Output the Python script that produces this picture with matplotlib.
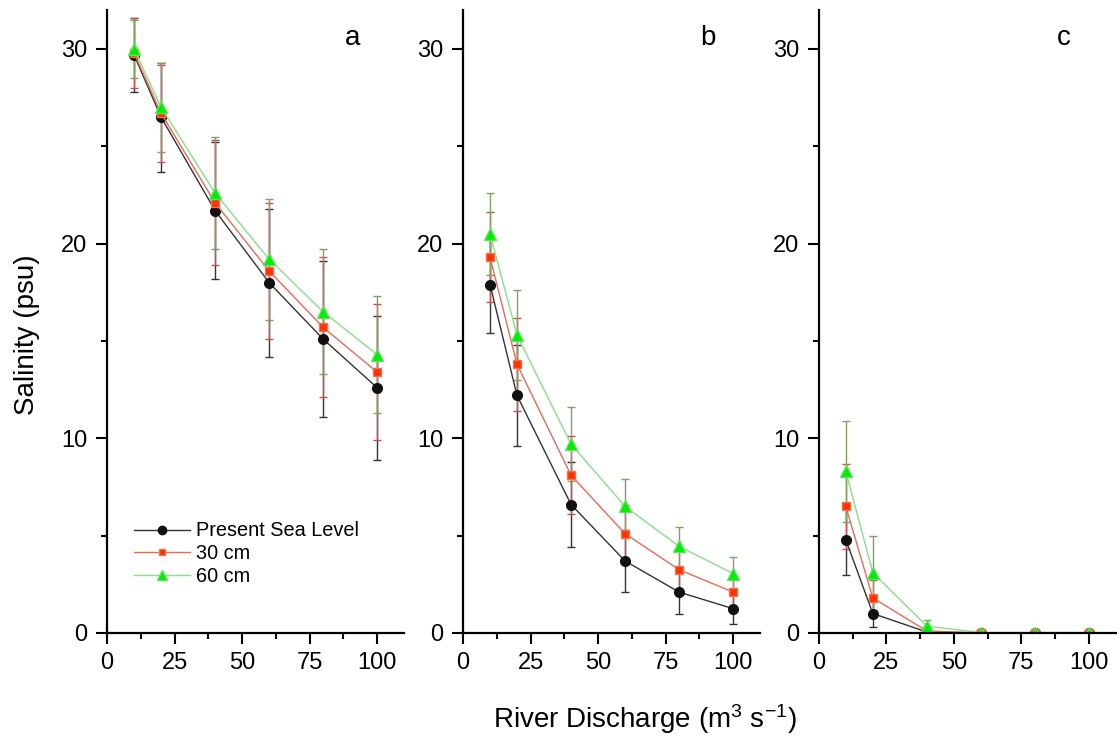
import matplotlib
matplotlib.use('Agg')
import matplotlib.pyplot as plt
from matplotlib.ticker import MultipleLocator
from matplotlib.lines import Line2D

plt.rcParams['font.family'] = ['Liberation Sans', 'DejaVu Sans']
plt.rcParams['mathtext.default'] = 'regular'

discharge = [10, 20, 40, 60, 80, 100]
series_names = ['Present Sea Level', '30 cm', '60 cm']
panel_letters = ['a', 'b', 'c']

# salinity (psu) per panel, per sea-level scenario
sal_a_present = [29.7, 26.5, 21.7, 18.0, 15.1, 12.6]
sal_a_30 = [29.8, 26.7, 22.1, 18.6, 15.7, 13.4]
sal_a_60 = [30.0, 27.0, 22.6, 19.2, 16.5, 14.3]
err_a_present = [1.9, 2.8, 3.5, 3.8, 4.0, 3.7]
err_a_30 = [1.8, 2.5, 3.2, 3.5, 3.6, 3.5]
err_a_60 = [1.5, 2.3, 2.9, 3.1, 3.2, 3.0]

sal_b_present = [17.9, 12.2, 6.6, 3.7, 2.1, 1.25]
sal_b_30 = [19.3, 13.8, 8.1, 5.1, 3.25, 2.1]
sal_b_60 = [20.5, 15.3, 9.7, 6.5, 4.45, 3.05]
err_b_present = [2.5, 2.6, 2.2, 1.6, 1.15, 0.8]
err_b_30 = [2.3, 2.4, 2.0, 1.5, 1.1, 0.8]
err_b_60 = [2.1, 2.3, 1.9, 1.4, 1.0, 0.85]

sal_c_present = [4.8, 1.0, 0.05, 0.0, 0.0, 0.0]
sal_c_30 = [6.5, 1.8, 0.1, 0.0, 0.0, 0.0]
sal_c_60 = [8.3, 3.1, 0.35, 0.02, 0.02, 0.02]
err_c_present = [1.8, 0.7, 0.1, 0.0, 0.0, 0.0]
err_c_30 = [2.2, 0.9, 0.1, 0.0, 0.0, 0.0]
err_c_60 = [2.6, 1.9, 0.3, 0.05, 0.05, 0.05]

panels = [
    ([sal_a_present, sal_a_30, sal_a_60], [err_a_present, err_a_30, err_a_60]),
    ([sal_b_present, sal_b_30, sal_b_60], [err_b_present, err_b_30, err_b_60]),
    ([sal_c_present, sal_c_30, sal_c_60], [err_c_present, err_c_30, err_c_60]),
]

styles = [
    dict(color='#333333', marker='o', mfc='#111111', mec='#111111', ecolor='#333333', ms=7),
    dict(color='#e86a5a', marker='s', mfc='#ff3300', mec='#f07050', ecolor='#c85050', ms=6),
    dict(color='#88e088', marker='^', mfc='#00ee00', mec='#60e060', ecolor='#80a060', ms=8),
]

fig = plt.figure(figsize=(11.17, 7.38), dpi=100)
lefts = [0.0958, 0.4145, 0.733]

for i, (vals, errs) in enumerate(panels):
    ax = fig.add_axes([lefts[i], 0.1423, 0.266, 0.8441])
    for name, v, e, st in zip(series_names, vals, errs, styles):
        ax.errorbar(discharge, v, yerr=e, color=st['color'], lw=1.0,
                    marker=st['marker'], ms=st['ms'], mfc=st['mfc'], mec=st['mec'],
                    ecolor=st['ecolor'], elinewidth=1.0, capsize=3, capthick=1.0)
    ax.set_xlim(0, 110)
    ax.set_ylim(0, 32)
    ax.xaxis.set_major_locator(MultipleLocator(25))
    ax.xaxis.set_minor_locator(MultipleLocator(12.5))
    ax.yaxis.set_major_locator(MultipleLocator(10))
    ax.yaxis.set_minor_locator(MultipleLocator(5))
    for s in ['top', 'right']:
        ax.spines[s].set_visible(False)
    for s in ['left', 'bottom']:
        ax.spines[s].set_linewidth(1.6)
    ax.tick_params(which='major', direction='out', length=8, width=1.5, labelsize=17, pad=6)
    ax.tick_params(which='minor', direction='out', length=4, width=1.5)
    ax.text(0.825, 0.955, panel_letters[i], transform=ax.transAxes, fontsize=20,
            ha='center', va='center')
    if i == 0:
        handles = [Line2D([], [], color=st['color'], lw=1.0, marker=st['marker'],
                          ms=st['ms'] - 1, mfc=st['mfc'], mec=st['mec'])
                   for st in styles]
        ax.legend(handles, series_names, loc='lower left', bbox_to_anchor=(0.065, 0.062),
                  frameon=False, fontsize=14.3, handlelength=2.8, handletextpad=0.3,
                  labelspacing=0.2, borderaxespad=0)

fig.text(0.024, 0.546, 'Salinity (psu)', rotation=90, fontsize=20, ha='center', va='center')
fig.text(0.577, 0.025, 'River Discharge (m$^3$ s$^{-1}$)', fontsize=20, ha='center', va='center')

fig.savefig('out.png', dpi=100)
